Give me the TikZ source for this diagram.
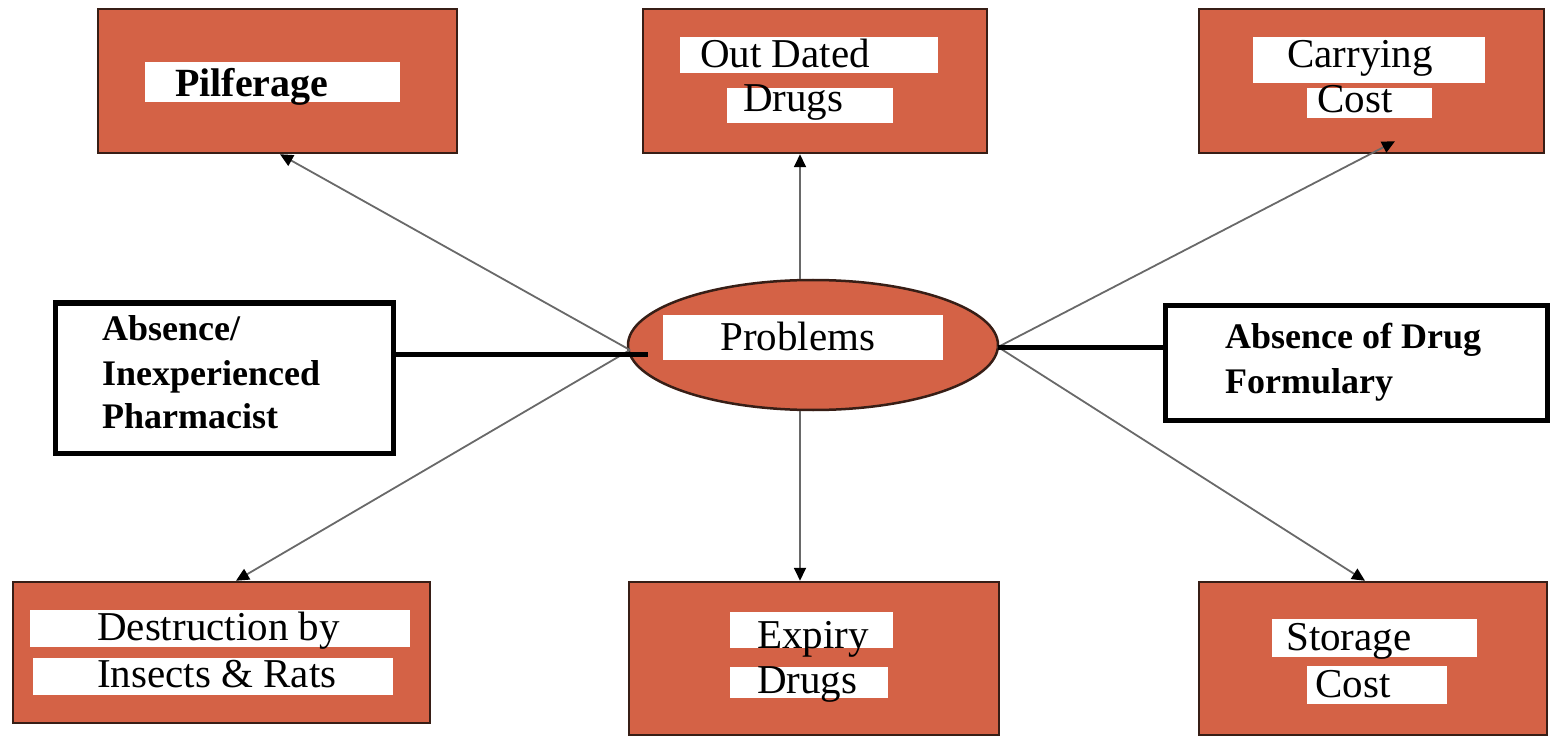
\documentclass[tikz,border=0pt]{standalone}
\usepackage{fontspec}
\setmainfont{Liberation Serif}
\usetikzlibrary{shapes.geometric,arrows.meta,calc}
\definecolor{boxorange}{RGB}{212,98,70}
\definecolor{boxedge}{RGB}{55,30,22}
\definecolor{linkgray}{RGB}{105,105,105}
\begin{document}
\begin{tikzpicture}[x=1pt,y=-1pt,
  obox/.style={draw=boxedge, line width=2.5pt, fill=boxorange, inner sep=0pt},
  wbox/.style={draw=black, line width=5pt, fill=white, inner sep=0pt},
  patch/.style={fill=white},
  lbl/.style={anchor=base west, inner sep=0pt, font=\fontsize{41}{48}\selectfont},
  blbl/.style={anchor=base west, inner sep=0pt, font=\fontsize{40}{48}\selectfont\bfseries},
  wlbl/.style={anchor=base west, inner sep=0pt, font=\fontsize{36}{44}\selectfont\bfseries},
  arr/.style={draw=linkgray, line width=1.8pt, -{Triangle[length=13pt,width=12pt,color=black]}},
  link/.style={draw=black, line width=5pt}]
\useasboundingbox (0,0) rectangle (1551,738);

% orange boxes
\node[obox, minimum width=359pt, minimum height=144pt] (pil) at (277.5,81) {};
\node[obox, minimum width=344pt, minimum height=144pt] (od) at (815,81) {};
\node[obox, minimum width=345pt, minimum height=144pt] (cc) at (1371.5,81) {};
\node[obox, minimum width=417pt, minimum height=141pt] (des) at (221.5,652.5) {};
\node[obox, minimum width=370pt, minimum height=153pt] (exp) at (814,658.5) {};
\node[obox, minimum width=348pt, minimum height=153pt] (sto) at (1373,658.5) {};
% ellipse
\node[obox, ellipse, minimum width=370pt, minimum height=130pt] (prob) at (813,345) {};
% white boxes
\node[wbox, minimum width=338pt, minimum height=150pt] (abs) at (224,378) {};
\node[wbox, minimum width=382pt, minimum height=115pt] (form) at (1356,362.5) {};

% white patches
\fill[patch] (145,62) rectangle (400,102);
\fill[patch] (680,37) rectangle (938,73);
\fill[patch] (727,88) rectangle (893,123);
\fill[patch] (1253,37) rectangle (1485,83);
\fill[patch] (1307,88) rectangle (1432,118);
\fill[patch] (30,610) rectangle (410,647);
\fill[patch] (33,658) rectangle (393,695);
\fill[patch] (730,612) rectangle (893,648);
\fill[patch] (730,667) rectangle (888,698);
\fill[patch] (1272,619) rectangle (1477,657);
\fill[patch] (1307,666) rectangle (1447,704);
\fill[patch] (663,315) rectangle (943,360);

% labels
\node[blbl] (tpil) at (175,97) {Pilferage};
\node[lbl] (tod1) at (700,68) {Out Dated};
\node[lbl] (tod2) at (743,112) {Drugs};
\node[lbl] (tcc1) at (1287,68) {Carrying};
\node[lbl] (tcc2) at (1317,113) {Cost};
\node[lbl] (tdes1) at (97,640) {Destruction by};
\node[lbl] (tdes2) at (97,687) {Insects \& Rats};
\node[lbl] (texp1) at (757,648) {Expiry};
\node[lbl] (texp2) at (757,693) {Drugs};
\node[lbl] (tsto1) at (1286,650) {Storage};
\node[lbl] (tsto2) at (1315,697) {Cost};
\node[lbl] (tprob) at (720,350) {Problems};
\node[wlbl] (tabs1) at (102,340) {Absence/};
\node[wlbl] (tabs2) at (102,385) {Inexperienced};
\node[wlbl] (tabs3) at (102,428) {Pharmacist};
\node[wlbl] (tform1) at (1225,348) {Absence of Drug};
\node[wlbl] (tform2) at (1225,393) {Formulary};

% connector ends
\coordinate (pl) at (630,350);
\coordinate (pr) at (998,347);
\coordinate (pin) at (648,354);

% thin arrows
\draw[arr] (pl) -- ([xshift=2.5pt]pil.south);
\draw[arr] (pl) -- ([xshift=14.5pt]des.north);
\draw[arr] (pr) -- ([xshift=23.5pt,yshift=13pt]cc.south);
\draw[arr] (pr) -- ([xshift=-8pt]sto.north);
\draw[arr] ([xshift=-13pt]prob.north) -- ([xshift=-15pt]od.south);
\draw[arr] ([xshift=-13pt]prob.south) -- ([xshift=-14pt]exp.north);

% thick links
\draw[link] (abs.east |- pin) -- (pin);
\draw[link] (pr) -- (form.west |- pr);
\end{tikzpicture}
\end{document}
